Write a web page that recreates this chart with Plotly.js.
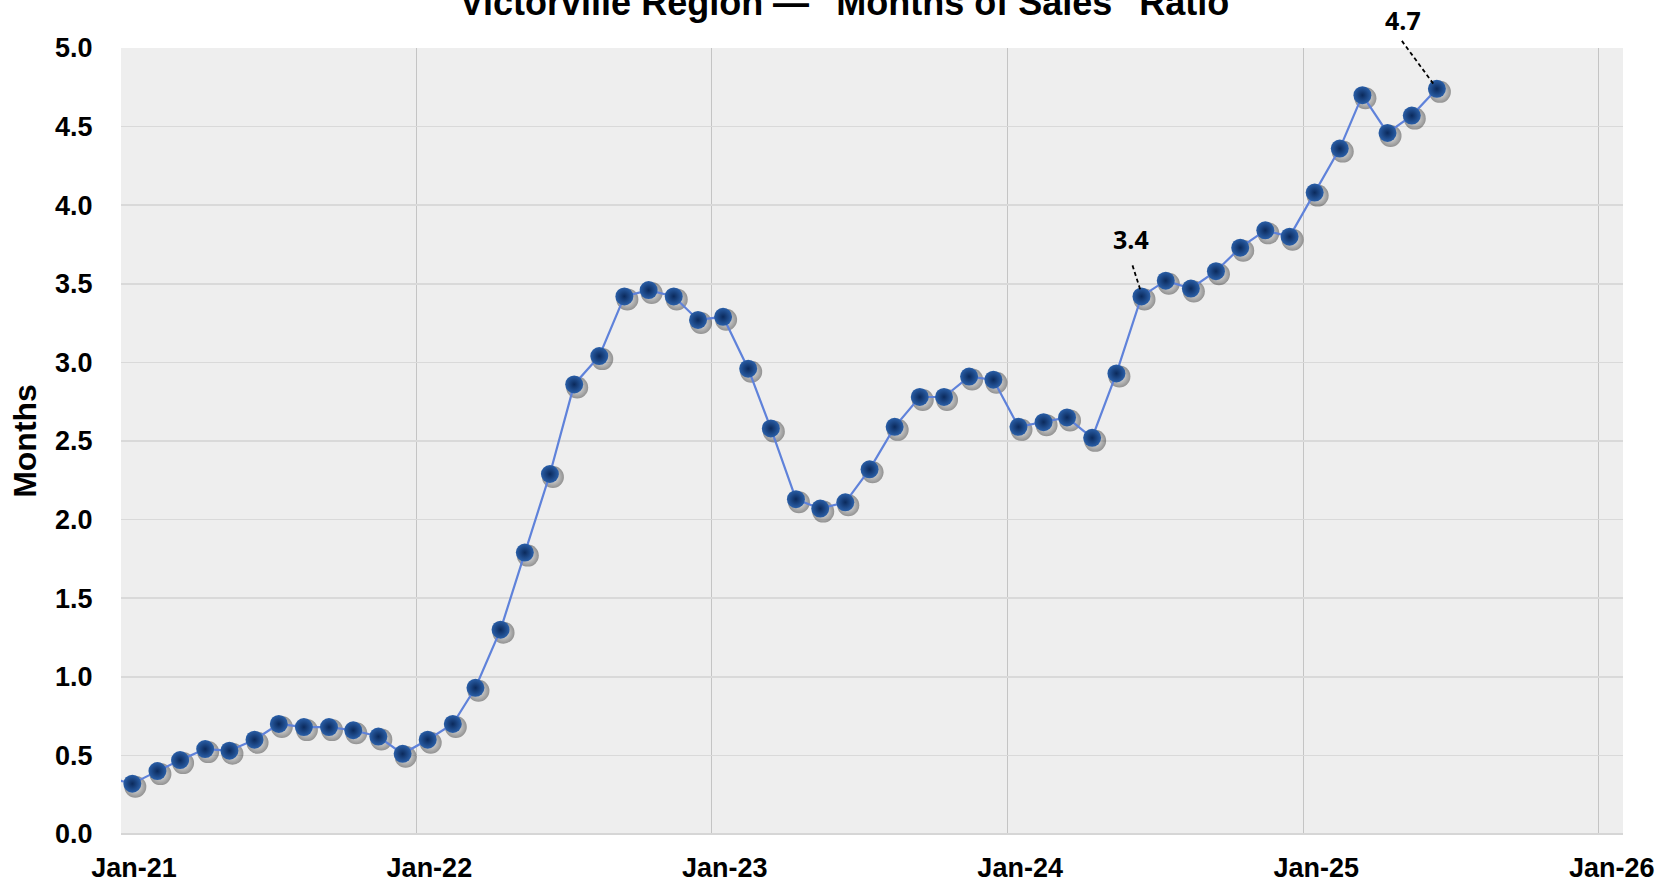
<!DOCTYPE html>
<html>
<head>
<meta charset="utf-8">
<script src="https://cdn.plot.ly/plotly-3.0.1.min.js"></script>
<style>
  html, body { margin: 0; padding: 0; background: #ffffff; }
  #chart { width: 1669px; height: 884px; }
</style>
</head>
<body>
<div id="chart"></div>
<script>
// ---- data ----
const months = [
  '2020-12',
  '2021-01','2021-02','2021-03','2021-04','2021-05','2021-06','2021-07','2021-08','2021-09','2021-10','2021-11','2021-12',
  '2022-01','2022-02','2022-03','2022-04','2022-05','2022-06','2022-07','2022-08','2022-09','2022-10','2022-11','2022-12',
  '2023-01','2023-02','2023-03','2023-04','2023-05','2023-06','2023-07','2023-08','2023-09','2023-10','2023-11','2023-12',
  '2024-01','2024-02','2024-03','2024-04','2024-05','2024-06','2024-07','2024-08','2024-09','2024-10','2024-11','2024-12',
  '2025-01','2025-02','2025-03','2025-04','2025-05','2025-06'
];
const monthsOfSales = [
  0.36,
  0.32, 0.40, 0.47, 0.54, 0.53, 0.60, 0.70, 0.68, 0.68, 0.66, 0.62, 0.51,
  0.60, 0.70, 0.93, 1.30, 1.79, 2.29, 2.86, 3.04, 3.42, 3.46, 3.42, 3.27,
  3.29, 2.96, 2.58, 2.13, 2.07, 2.11, 2.32, 2.59, 2.78, 2.78, 2.91, 2.89,
  2.59, 2.62, 2.65, 2.52, 2.93, 3.42, 3.52, 3.47, 3.58, 3.73, 3.84, 3.80,
  4.08, 4.36, 4.70, 4.46, 4.57, 4.74
];
const labelMonths = ['2024-06', '2025-06'];
const labelTexts = ['3.4', '4.7'];
const chartTitle = 'Victorville Region \u2014 "Months of Sales" Ratio';
const yTitle = 'Months';

// ---- build ----
const xDates = months.map(m => m + '-15');
const xRange = ['2021-01-01', '2026-01-31'];
const yRange = [0, 5];

// pixel geometry of plot area (for a shadow offset of a few pixels)
const plotW = 1669 - 121 - 46, plotH = 884 - 48 - 50;
const t0 = Date.parse(xRange[0]), t1 = Date.parse(xRange[1]);
const msPerPx = (t1 - t0) / plotW;
const shadowDx = 3, shadowDy = 3;
const iso = t => new Date(t).toISOString().slice(0, 19).replace('T', ' ');
const xRangeShadow = [iso(t0 - shadowDx * msPerPx), iso(t1 - shadowDx * msPerPx)];
const yShift = shadowDy * (yRange[1] - yRange[0]) / plotH;
const yRangeShadow = [yRange[0] + yShift, yRange[1] + yShift];

const fontFamily = 'Liberation Sans, Arial, sans-serif';

const shadowTrace = {
  x: xDates, y: monthsOfSales, xaxis: 'x2', yaxis: 'y2',
  type: 'scatter', mode: 'markers', hoverinfo: 'skip',
  marker: { size: 22, color: 'rgba(20,20,20,0.42)',
            gradient: { type: 'radial', color: 'rgba(0,0,0,0)' }, line: { width: 0 } },
  cliponaxis: true
};
const mainTrace = {
  x: xDates, y: monthsOfSales, xaxis: 'x3', yaxis: 'y3',
  type: 'scatter', mode: 'lines+markers',
  line: { color: '#5f82da', width: 2.2 },
  marker: { size: 18, color: '#2a5fa8',
            gradient: { type: 'radial', color: '#0b2a5c' }, line: { width: 0 } },
  cliponaxis: true
};

const annotations = [], shapes = [];
const annOffsets = [[-10, -57], [-34, -69]];
const dashOffsets = [[-9, 31, -1, 6], [-35, 48, -2, 3]];
labelMonths.forEach((m, i) => {
  const idx = months.indexOf(m);
  const xv = xDates[idx], yv = monthsOfSales[idx];
  annotations.push({
    x: xv, y: yv, xref: 'x', yref: 'y', text: '<b>' + labelTexts[i] + '</b>',
    showarrow: true, arrowcolor: 'rgba(0,0,0,0)', arrowwidth: 0.1, arrowhead: 0,
    ax: annOffsets[i][0], ay: annOffsets[i][1],
    font: { family: 'Open Sans, Lato, sans-serif', size: 25, color: '#000' }
  });
  const d = dashOffsets[i];
  shapes.push({
    type: 'line', xref: 'x', yref: 'paper',
    xsizemode: 'pixel', ysizemode: 'pixel',
    xanchor: xv, yanchor: (yv - yRange[0]) / (yRange[1] - yRange[0]),
    x0: d[0], y0: d[1], x1: d[2], y1: d[3],
    line: { color: '#000', width: 1.8, dash: '4px,3px' }, layer: 'above'
  });
});

const hiddenAxis = { visible: false, showgrid: false, zeroline: false, fixedrange: true };

const layout = {
  width: 1669, height: 884,
  margin: { l: 121, r: 46, t: 48, b: 50 },
  paper_bgcolor: '#ffffff', plot_bgcolor: '#eeeeee',
  showlegend: false,
  title: { text: chartTitle, x: 0.506, xanchor: 'center', xref: 'container',
           y: 0.997, yref: 'container', yanchor: 'middle',
           font: { family: fontFamily, size: 36, color: '#000', weight: 'bold' } },
  xaxis: {
    type: 'date', range: xRange, tick0: '2021-01-01', dtick: 'M12', tickformat: '%b-%y',
    showgrid: true, gridcolor: '#c4c4c4', gridwidth: 1, zeroline: false,
    ticks: 'outside', ticklen: 10, tickcolor: 'rgba(0,0,0,0)', ticklabelshift: 13,
    showline: false,
    tickfont: { family: fontFamily, size: 27, color: '#000', weight: 'bold' }
  },
  yaxis: {
    range: yRange, dtick: 0.5, tick0: 0, tickformat: '.1f',
    showgrid: true, gridcolor: '#d9d9d9', gridwidth: 1.5,
    zeroline: true, zerolinecolor: '#d6d6d6', zerolinewidth: 2,
    ticks: 'outside', ticklen: 22, tickcolor: 'rgba(0,0,0,0)',
    tickfont: { family: fontFamily, size: 27, color: '#000', weight: 'bold' },
    title: { text: yTitle, standoff: 8,
             font: { family: fontFamily, size: 32, color: '#000', weight: 'bold' } }
  },
  xaxis2: Object.assign({ overlaying: 'x', type: 'date', range: xRangeShadow }, hiddenAxis),
  yaxis2: Object.assign({ overlaying: 'y', range: yRangeShadow }, hiddenAxis),
  xaxis3: Object.assign({ overlaying: 'x', type: 'date', range: xRange }, hiddenAxis),
  yaxis3: Object.assign({ overlaying: 'y', range: yRange }, hiddenAxis),
  annotations: annotations,
  shapes: shapes
};

Plotly.newPlot('chart', [shadowTrace, mainTrace], layout, { displayModeBar: false, staticPlot: true });
</script>
</body>
</html>
